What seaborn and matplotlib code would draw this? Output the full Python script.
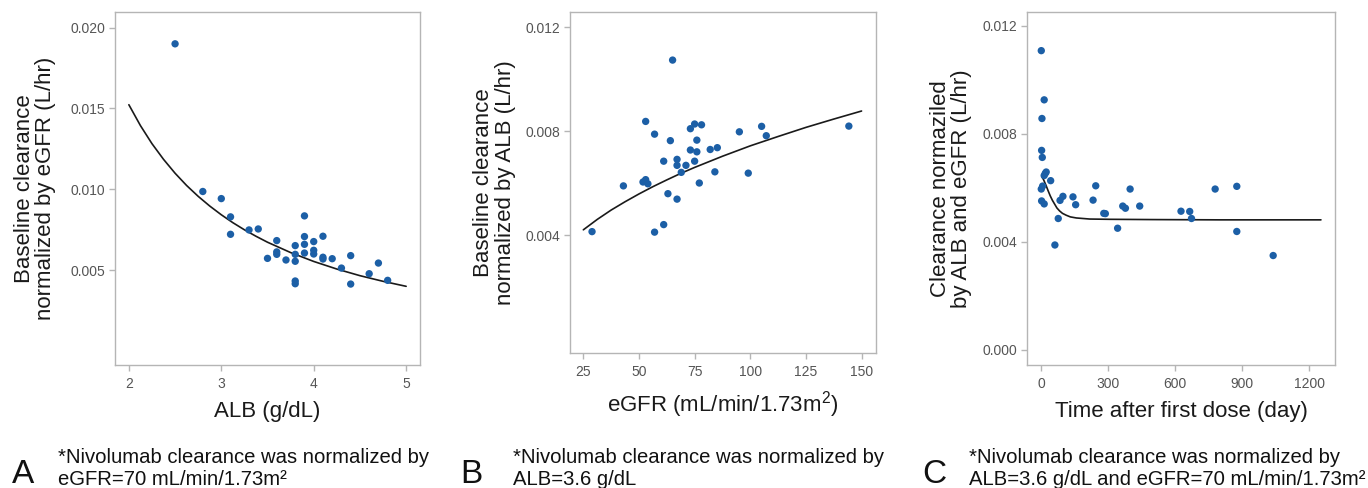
import matplotlib
matplotlib.use("Agg")
import matplotlib.pyplot as plt
import seaborn as sns
import pandas as pd

# ---------------- data ----------------
# Panel A: baseline clearance normalized by eGFR vs ALB
alb = [2.5, 2.8, 3.0, 3.1, 3.1, 3.3, 3.4, 3.5, 3.6, 3.6, 3.6, 3.7, 3.8, 3.8, 3.8, 3.8, 3.8,
       3.9, 3.9, 3.9, 3.9, 4.0, 4.0, 4.0, 4.1, 4.1, 4.1, 4.2, 4.3, 4.4, 4.4, 4.6, 4.7, 4.8]
cl_a = [0.0190, 0.00986, 0.00942, 0.00829, 0.00721, 0.00748, 0.00754, 0.00572, 0.00682, 0.00612,
        0.00597, 0.00562, 0.00651, 0.00597, 0.00554, 0.00432, 0.00415, 0.00835, 0.00707, 0.00659,
        0.00605, 0.00676, 0.00622, 0.00599, 0.00709, 0.00579, 0.00568, 0.00570, 0.00512, 0.00589,
        0.00413, 0.00477, 0.00543, 0.00436]
fit_a_x = [2.0, 2.125, 2.25, 2.375, 2.5, 2.625, 2.75, 2.875, 3.0, 3.125, 3.25, 3.375, 3.5,
           3.75, 4.0, 4.25, 4.5, 4.75, 5.0]
fit_a_y = [0.01523, 0.01394, 0.01282, 0.01185, 0.01099, 0.01023, 0.00956, 0.00896, 0.00842,
           0.00793, 0.00749, 0.00709, 0.00672, 0.00608, 0.00553, 0.00506, 0.00465, 0.00430,
           0.00399]

# Panel B: baseline clearance normalized by ALB vs eGFR
egfr = [28.9, 43.0, 51.8, 53.0, 54.0, 53.0, 57.0, 57.0, 61.1, 61.1, 63.0, 64.1, 65.1, 67.1, 67.1,
        67.1, 69.0, 71.1, 73.1, 73.1, 75.0, 75.0, 76.0, 76.0, 77.1, 78.1, 82.0, 84.1, 85.2, 95.1,
        99.1, 105.1, 107.2, 144.3]
cl_b = [0.00413, 0.00589, 0.00604, 0.00613, 0.00597, 0.00837, 0.00788, 0.00411, 0.00684, 0.00440,
        0.00559, 0.00763, 0.01073, 0.00691, 0.00668, 0.00538, 0.00641, 0.00668, 0.00809, 0.00727,
        0.00827, 0.00684, 0.00765, 0.00720, 0.00600, 0.00824, 0.00729, 0.00643, 0.00736, 0.00797,
        0.00638, 0.00818, 0.00782, 0.00819]
fit_b_x = [25, 31.25, 37.5, 43.75, 50, 56.25, 62.5, 68.75, 75, 87.5, 100, 112.5, 125, 137.5, 150]
fit_b_y = [0.00420, 0.00460, 0.00496, 0.00528, 0.00558, 0.00586, 0.00612, 0.00637, 0.00660,
           0.00703, 0.00743, 0.00779, 0.00814, 0.00846, 0.00877]

# Panel C: clearance normalized by ALB and eGFR vs time
time_d = [0, 13, 3, 1.5, 4.5, 13, 18, 22, 42, 0, 6, 1.5, 13, 61, 76, 84, 97, 142, 154, 232, 244,
          280, 287, 342, 365, 377, 398, 441, 626, 665, 673, 779, 876, 876, 1039]
cl_c = [0.01107, 0.00925, 0.00856, 0.00738, 0.00712, 0.00645, 0.00653, 0.00658, 0.00626, 0.00595,
        0.00606, 0.00551, 0.00540, 0.00388, 0.00486, 0.00553, 0.00568, 0.00566, 0.00537, 0.00554,
        0.00607, 0.00505, 0.00504, 0.00450, 0.00532, 0.00524, 0.00595, 0.00532, 0.00513, 0.00512,
        0.00486, 0.00595, 0.00605, 0.00438, 0.00349]
fit_c_x = [4.5, 10, 22, 30, 40, 50, 60, 70, 82, 95, 112, 130, 157, 217, 306, 501, 800, 1253]
fit_c_y = [0.00638, 0.00630, 0.00607, 0.00590, 0.00570, 0.00553, 0.00539, 0.00525, 0.00514,
           0.00505, 0.00498, 0.00492, 0.00488, 0.00484, 0.00483, 0.00482, 0.00481, 0.00481]

xlabels = ["ALB (g/dL)", "eGFR (mL/min/1.73m$\\mathregular{^2}$)", "Time after first dose (day)"]
ylabels = ["Baseline clearance\nnormalized by eGFR (L/hr)",
           "Baseline clearance\nnormalized by ALB (L/hr)",
           "Clearance normaziled\nby ALB and eGFR (L/hr)"]
xticks = [[2, 3, 4, 5], [25, 50, 75, 100, 125, 150], [0, 300, 600, 900, 1200]]
yticks = [[0.005, 0.010, 0.015, 0.020], [0.004, 0.008, 0.012], [0.000, 0.004, 0.008, 0.012]]
letters = ["A", "B", "C"]
captions = [("*Nivolumab clearance was normalized by", "eGFR=70 mL/min/1.73m²"),
            ("*Nivolumab clearance was normalized by", "ALB=3.6 g/dL"),
            ("*Nivolumab clearance was normalized by", "ALB=3.6 g/dL and eGFR=70 mL/min/1.73m²")]

# ---------------- style ----------------
sns.set_theme(style="white")
plt.rcParams["font.family"] = ["Liberation Sans", "DejaVu Sans"]
plt.rcParams["mathtext.fontset"] = "custom"
plt.rcParams["mathtext.rm"] = "Liberation Sans"

W, H = 1368, 488
fig = plt.figure(figsize=(W / 100, H / 100), dpi=100)

# pixel boxes: left, top, right, bottom
boxes = [(115, 12, 420, 365), (570, 12, 876, 353), (1027, 12, 1335, 365)]
xlims = [(1.85, 5.15), (19, 156.5), (-64, 1316)]
ylims = [(-0.00088, 0.02097), (-0.00054, 0.01258), (-0.00056, 0.0125)]
ylab_x = [-0.262, -0.248, -0.247]

dot = "#1c5fa6"
spine_c = "#b5b5b5"
tick_c = "#555555"

data = [(alb, cl_a, fit_a_x, fit_a_y), (egfr, cl_b, fit_b_x, fit_b_y),
        (time_d, cl_c, fit_c_x, fit_c_y)]

for i in range(3):
    l, t, r, b = boxes[i]
    ax = fig.add_axes([l / W, 1 - b / H, (r - l) / W, (b - t) / H])
    xs, ys, fx, fy = data[i]
    sns.scatterplot(x=xs, y=ys, ax=ax, color=dot, s=28, edgecolor="none", linewidth=0, zorder=3)
    sns.lineplot(x=fx, y=fy, ax=ax, color="#1a1a1a", linewidth=1.2, estimator=None, zorder=2)
    ax.set_xlim(*xlims[i])
    ax.set_ylim(*ylims[i])
    ax.set_xticks(xticks[i])
    ax.set_yticks(yticks[i])
    ax.set_xticklabels([str(v) for v in xticks[i]])
    ax.set_yticklabels([f"{v:.3f}" for v in yticks[i]])
    for s in ax.spines.values():
        s.set_color(spine_c)
        s.set_linewidth(1.0)
    ax.tick_params(axis="both", which="major", length=4, width=1, color=spine_c,
                   labelcolor=tick_c, labelsize=10, pad=3, bottom=True, left=True)
    ax.tick_params(axis="x", pad=5)
    ax.set_xlabel(xlabels[i], fontsize=16, color="#1a1a1a", labelpad=7)
    ax.set_ylabel(ylabels[i], fontsize=16, color="#1a1a1a", ha="center", va="center",
                  linespacing=1.05)
    ax.yaxis.set_label_coords(ylab_x[i], 0.5)

# captions
letter_x = [12, 460, 922]
text_x = [58, 513, 969]
for i in range(3):
    fig.text(letter_x[i] / W, 5 / H, letters[i], fontsize=24, color="#111111",
             ha="left", va="baseline")
    fig.text(text_x[i] / W, (H - 463) / H, captions[i][0], fontsize=14.6, color="#111111",
             ha="left", va="baseline")
    fig.text(text_x[i] / W, (H - 485) / H, captions[i][1], fontsize=14.6, color="#111111",
             ha="left", va="baseline")

fig.savefig("out.png", dpi=100)
